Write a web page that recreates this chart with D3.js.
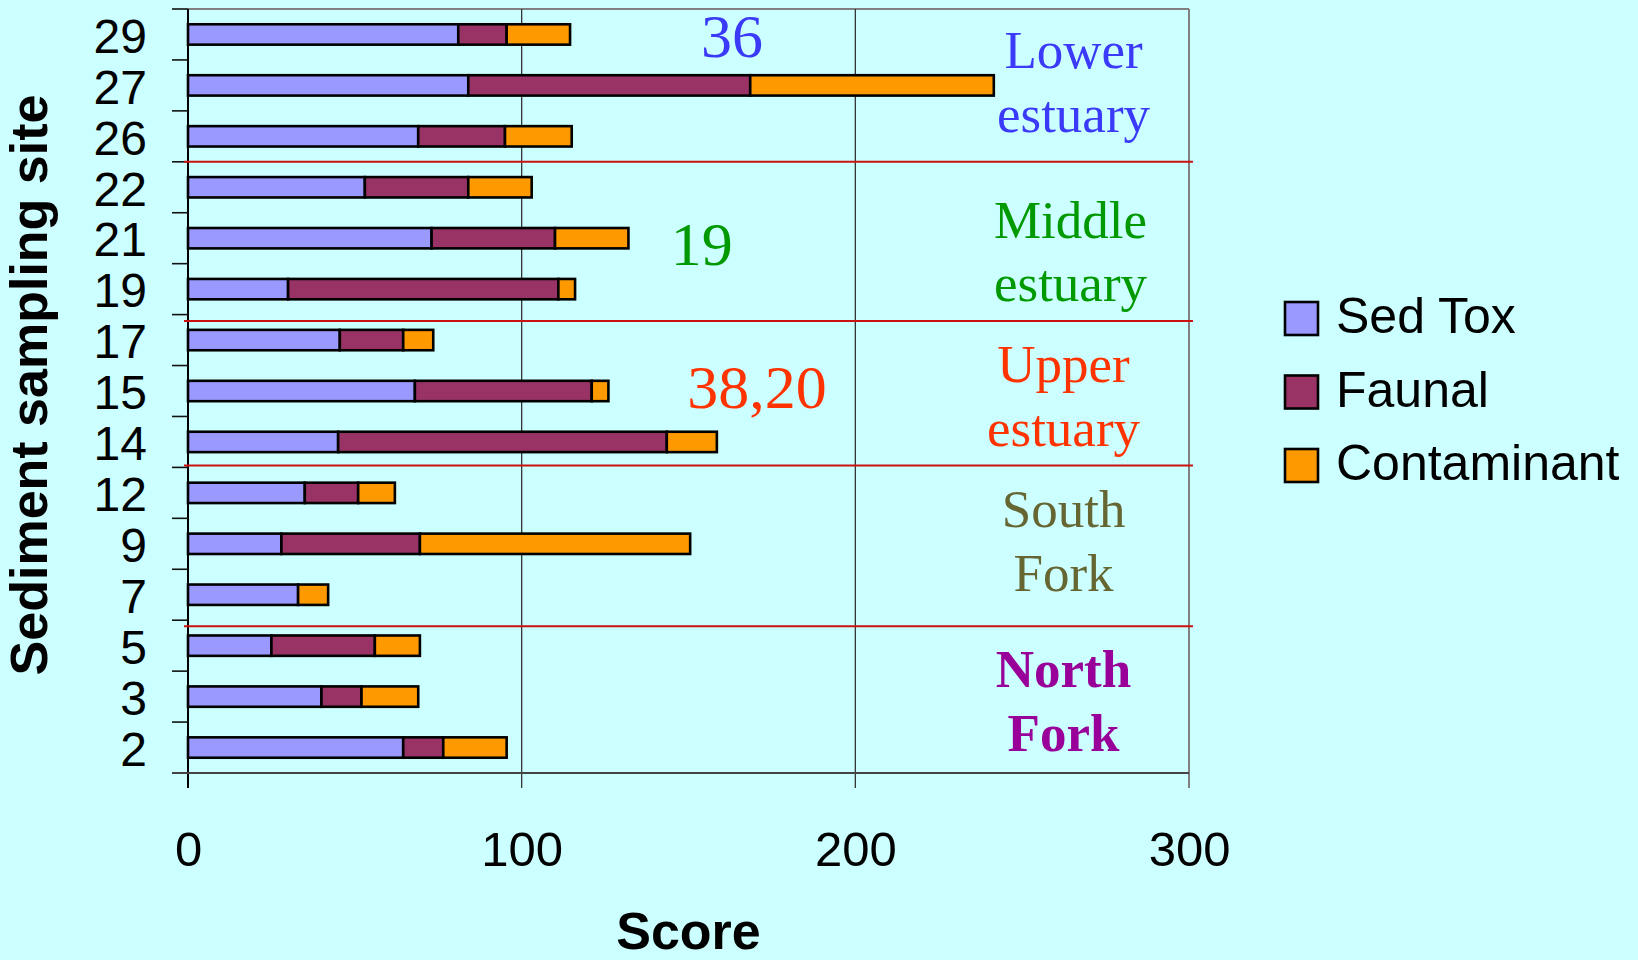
<!DOCTYPE html>
<html>
<head>
<meta charset="utf-8">
<script src="https://cdn.jsdelivr.net/npm/d3@7"></script>
<style>
  html, body { margin: 0; padding: 0; background: #CCFFFF; }
  svg { display: block; }
</style>
</head>
<body>
<svg id="chart" width="1638" height="960"></svg>
<script>
// Sediment sampling sites, listed top to bottom
const sites = ["29", "27", "26", "22", "21", "19", "17", "15", "14", "12", "9", "7", "5", "3", "2"];

// Component scores per site
const sedTox      = [81, 84, 69, 53, 73, 30, 45.5, 68, 45, 35, 28, 33, 25, 40, 64.5];
const faunal      = [14.5, 84.5, 26, 31, 37, 81, 19, 53, 98.5, 16, 41.5, 0, 31, 12, 12];
const contaminant = [19, 73, 20, 19, 22, 5, 9, 5, 15, 11, 81, 9, 13.5, 17, 19];

const seriesNames  = ["Sed Tox", "Faunal", "Contaminant"];
const seriesColors = ["#9999FF", "#993366", "#FF9900"];

const xTicks = [0, 100, 200, 300];

// River reaches (three sites each, top to bottom)
const groupNames  = [["Lower", "estuary"], ["Middle", "estuary"], ["Upper", "estuary"], ["South", "Fork"], ["North", "Fork"]];
const groupColors = ["#3A3AF8", "#009900", "#FF3300", "#666633", "#990099"];
const groupBold   = [false, false, false, false, true];
const groupSizes  = [3, 3, 3, 3, 3];

// Site numbers noted beside the upper reaches
const notes      = ["36", "19", "38,20"];
const noteColors = ["#3A3AF8", "#009900", "#FF3300"];

// ---- layout ----
const sans  = "'Liberation Sans', Arial, sans-serif";
const serif = "'Liberation Serif', 'Times New Roman', serif";
const plot = { left: 188, right: 1189, top: 9, bottom: 773 };

const svg = d3.select("#chart");
svg.append("rect").attr("width", 1638).attr("height", 960).attr("fill", "#CCFFFF");

const x = d3.scaleLinear().domain([0, 300]).range([plot.left, plot.right]);
const y = d3.scaleBand().domain(sites).range([plot.top, plot.bottom])
  .paddingInner(0.6).paddingOuter(0.3);
const step = y.step();

// boundary between row i-1 and row i
const boundary = i => plot.top + i * step;

// ---- grid & frame ----
const grid = svg.append("g");
// top frame
grid.append("line").attr("x1", plot.left).attr("x2", plot.right)
  .attr("y1", plot.top).attr("y2", plot.top)
  .attr("stroke", "#808080").attr("stroke-width", 2);

// vertical gridlines, continuing below the axis as tick marks
grid.selectAll("line.v").data(xTicks).join("line").attr("class", "v")
  .attr("x1", d => x(d)).attr("x2", d => x(d))
  .attr("y1", plot.top).attr("y2", plot.bottom + 15)
  .attr("stroke", d => d === 0 ? "#000" : (d === 300 ? "#808080" : "#333"))
  .attr("stroke-width", d => d === 0 ? 2 : (d === 300 ? 2 : 1.3));

// category tick marks at row boundaries
grid.selectAll("line.yt").data(d3.range(sites.length + 1)).join("line").attr("class", "yt")
  .attr("x1", plot.left - 16).attr("x2", plot.left)
  .attr("y1", i => boundary(i)).attr("y2", i => boundary(i))
  .attr("stroke", i => i === sites.length ? "#555" : "#111").attr("stroke-width", 1.6);

// ---- reach separators ----
const separatorNudge = [0, 6.5, -2, 6];
let acc = 0;
const sepRows = groupSizes.slice(0, -1).map(n => (acc += n));
svg.append("g").selectAll("line").data(sepRows).join("line")
  .attr("x1", plot.left - 4).attr("x2", plot.right + 4)
  .attr("y1", (r, i) => boundary(r) + separatorNudge[i])
  .attr("y2", (r, i) => boundary(r) + separatorNudge[i])
  .attr("stroke", "#CC1111").attr("stroke-width", 2);

// ---- stacked bars ----
const rows = sites.map((s, i) => ({ site: s, "Sed Tox": sedTox[i], "Faunal": faunal[i], "Contaminant": contaminant[i] }));
const stack = d3.stack().keys(seriesNames)(rows);

svg.append("g").selectAll("g").data(stack).join("g")
  .attr("fill", (d, i) => seriesColors[i])
  .selectAll("rect").data(d => d.filter(p => p[1] - p[0] > 0)).join("rect")
  .attr("x", d => x(d[0]))
  .attr("width", d => x(d[1]) - x(d[0]))
  .attr("y", d => y(d.data.site))
  .attr("height", y.bandwidth())
  .attr("stroke", "#000").attr("stroke-width", 2.6);

// ---- bottom axis line ----
svg.append("line").attr("x1", plot.left - 16).attr("x2", plot.right)
  .attr("y1", plot.bottom).attr("y2", plot.bottom)
  .attr("stroke", "#444").attr("stroke-width", 2.2);

// ---- axes labels ----
const yAxis = svg.append("g").attr("transform", `translate(${plot.left},0)`)
  .call(d3.axisLeft(y).tickSize(0).tickPadding(41));
yAxis.select(".domain").remove();
yAxis.selectAll("text").attr("font-family", sans).attr("font-size", 48)
  .attr("fill", "#000").attr("dy", "0.38em");

const xAxis = svg.append("g").attr("transform", `translate(0,${plot.bottom})`)
  .call(d3.axisBottom(x).tickValues(xTicks).tickSize(15).tickPadding(43).tickFormat(d3.format("d")));
xAxis.select(".domain").remove();
xAxis.selectAll("line").remove();
xAxis.selectAll("text").attr("font-family", sans).attr("font-size", 49).attr("fill", "#000");

// axis titles
svg.append("text").attr("x", (plot.left + plot.right) / 2).attr("y", 949)
  .attr("text-anchor", "middle").attr("font-family", sans).attr("font-size", 52)
  .attr("font-weight", "bold").text("Score");

svg.append("text").attr("transform", "translate(47,385) rotate(-90)")
  .attr("text-anchor", "middle").attr("font-family", sans).attr("font-size", 52)
  .attr("font-weight", "bold").text("Sediment sampling site");

// ---- reach labels ----
const groupLabelDx = [8, 5, -2, -2, -2];
const groupLabelDy = [59, 76, 67.5, 60, 67];
let start = 0;
groupNames.forEach((lines, g) => {
  const top = boundary(start);
  start += groupSizes[g];
  const t = svg.append("text")
    .attr("text-anchor", "middle").attr("font-family", serif).attr("font-size", 53)
    .attr("font-weight", groupBold[g] ? "bold" : "normal")
    .attr("fill", groupColors[g]);
  lines.forEach((ln, k) => {
    t.append("tspan").attr("x", x(263) + groupLabelDx[g])
      .attr("y", top + groupLabelDy[g] + k * 63.5).text(ln);
  });
});

// ---- site notes ----
const noteAt = [[163, 57], [154, 265], [170.5, 408]]; // [score, baseline]
svg.append("g").selectAll("text").data(notes).join("text")
  .attr("x", (d, i) => x(noteAt[i][0])).attr("y", (d, i) => noteAt[i][1])
  .attr("text-anchor", "middle").attr("font-family", serif).attr("font-size", 62)
  .attr("fill", (d, i) => noteColors[i]).text(d => d);

// ---- legend ----
const legend = svg.append("g").attr("transform", "translate(1285,302)");
const item = legend.selectAll("g").data(seriesNames).join("g")
  .attr("transform", (d, i) => `translate(0,${i * 73.5})`);
item.append("rect").attr("width", 33).attr("height", 33)
  .attr("fill", (d, i) => seriesColors[i]).attr("stroke", "#000").attr("stroke-width", 2.6);
item.append("text").attr("x", 51).attr("y", 31)
  .attr("font-family", sans).attr("font-size", 50).attr("fill", "#000").text(d => d);
</script>
</body>
</html>
